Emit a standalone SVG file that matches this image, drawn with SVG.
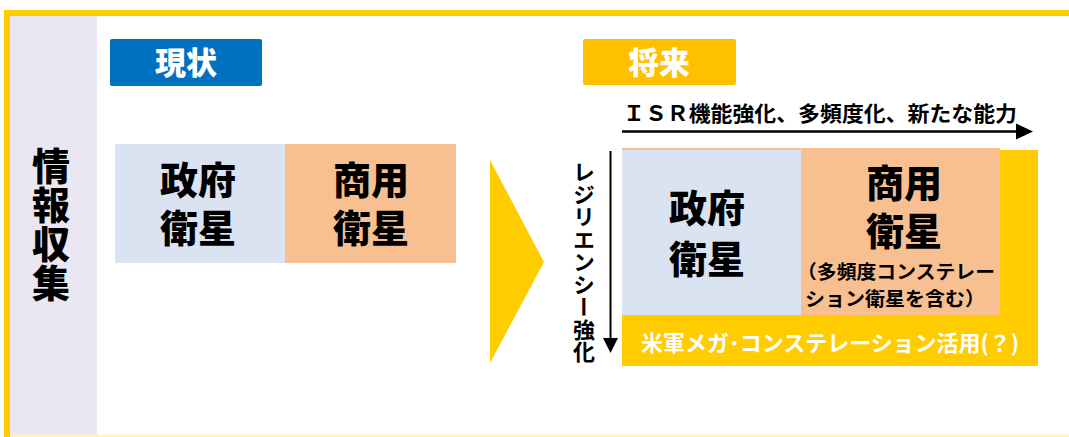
<svg xmlns="http://www.w3.org/2000/svg" width="1069" height="437" viewBox="0 0 1069 437">
<defs>
<style>
text{font-family:"Noto Sans CJK JP","Noto Sans CJK SC",sans-serif;font-weight:bold;fill:#000}
.big{font-size:38px;text-anchor:middle;font-weight:900}
.hdr{font-size:31px;text-anchor:middle;fill:#fff;font-weight:900}
.vert{writing-mode:vertical-rl}
.yel{fill:#FFCC00}
.gov{fill:#DAE3F2}
.com{fill:#F8C090}
</style>
</defs>
<rect x="0" y="0" width="1069" height="437" fill="#fff"/>
<g id="frame">
<rect x="10" y="16" width="87" height="421" fill="#EAE7F2"/>
<rect x="4" y="10" width="1065" height="6" class="yel"/>
<rect x="4" y="10" width="6" height="427" class="yel"/>
<rect x="10" y="434.5" width="1059" height="2.5" fill="#FFF1B8"/>
<text class="vert" x="51" y="147" style="font-size:38px;letter-spacing:1px;font-weight:900">情報収集</text>
</g>
<g id="label-current">
<rect x="110" y="39" width="152" height="47" rx="2" fill="#0070C0"/>
<text class="hdr" x="186" y="74">現状</text>
</g>
<g id="label-future">
<rect x="583" y="39" width="153" height="46" rx="2" fill="#FFC000"/>
<text class="hdr" x="659" y="74">将来</text>
</g>
<g id="current-gov">
<rect x="115" y="144" width="170" height="119" class="gov"/>
<text class="big"><tspan x="198" y="194">政府</tspan><tspan x="198" y="242">衛星</tspan></text>
</g>
<g id="current-com">
<rect x="285" y="144" width="171" height="119" class="com"/>
<text class="big"><tspan x="371" y="194">商用</tspan><tspan x="371" y="242">衛星</tspan></text>
</g>
<g id="chevron">
<polygon points="490,160 544,262 490,363" class="yel"/>
</g>
<g id="future-mega">
<rect x="622" y="150" width="416" height="216" class="yel"/>
<text x="641" y="351" style="font-size:22px;fill:#fff" textLength="378" lengthAdjust="spacingAndGlyphs">米軍メガ･コンステレーション活用(？)</text>
</g>
<g id="future-com">
<rect x="622" y="148" width="378" height="167" class="com"/>
<text class="big"><tspan x="904" y="197">商用</tspan><tspan x="904" y="245">衛星</tspan></text>
<text style="font-size:19px"><tspan x="797" y="279" textLength="198" lengthAdjust="spacingAndGlyphs">（多頻度コンステレー</tspan><tspan x="805" y="306" textLength="180" lengthAdjust="spacingAndGlyphs">ション衛星を含む）</tspan></text>
</g>
<g id="future-gov">
<rect x="622" y="150" width="179" height="165" class="gov"/>
<text class="big"><tspan x="707" y="222">政府</tspan><tspan x="707" y="273">衛星</tspan></text>
</g>
<g id="connectors">
<line x1="622" y1="131.5" x2="1018" y2="131.5" stroke="#000" stroke-width="2.5"/>
<polygon points="1016,123.5 1033,131.5 1016,139.5" fill="#000"/>
<line x1="610.5" y1="151" x2="610.5" y2="340" stroke="#000" stroke-width="2"/>
<polygon points="603,338 618,338 610.5,353" fill="#000"/>
</g>
<g id="axis-labels">
<text x="623" y="121" style="font-size:21px" textLength="394" lengthAdjust="spacingAndGlyphs">ＩＳＲ機能強化、多頻度化、新たな能力</text>
<text class="vert" x="584" y="161" style="font-size:22px;letter-spacing:0.5px">レジリエンシー強化</text>
</g>
</svg>
